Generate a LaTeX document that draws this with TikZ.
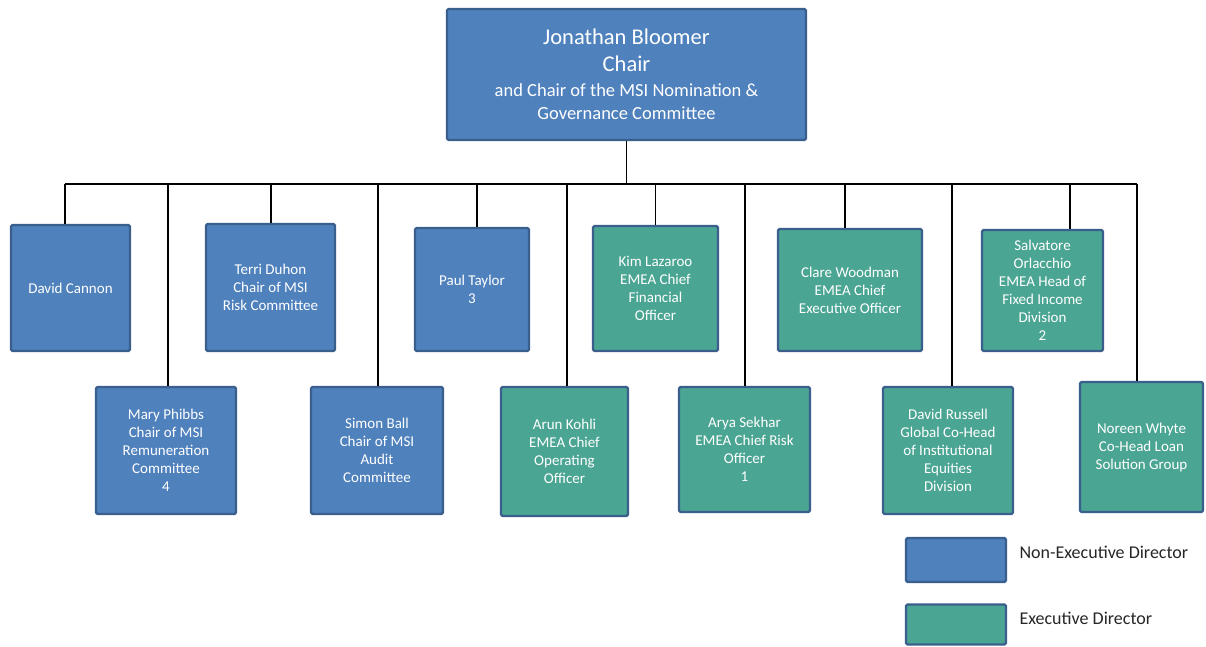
\documentclass[tikz,border=0pt]{standalone}
\usepackage{fontspec}
\setmainfont{Carlito}
\definecolor{nedblue}{HTML}{4F81BD}
\definecolor{edgreen}{HTML}{4BA593}
\definecolor{boxedge}{HTML}{3A5F8C}
\begin{document}
\begin{tikzpicture}[x=1pt,y=-1pt,
  box/.style={draw=boxedge, line width=2.3pt, rounded corners=1.5pt, text=white, align=center,
    inner sep=1pt, font=\fontsize{15}{18}\selectfont},
  ned/.style={box, fill=nedblue},
  exd/.style={box, fill=edgreen},
  link/.style={draw=black, line width=1.4pt},
  legtext/.style={anchor=west, text=black!85, font=\fontsize{18}{20}\selectfont}]
\useasboundingbox (0,0) rectangle (1206,646);
\node[ned, minimum width=359pt, minimum height=131pt, font=\fontsize{18.5}{23.5}\selectfont] (top) at (626.5,74.5)
  {{\fontsize{22.5}{27}\selectfont Jonathan Bloomer}\\[3.5pt]{\fontsize{22.5}{27}\selectfont Chair}\\[1.5pt]and Chair of the MSI Nomination \&\\Governance Committee};
% top row
\node[ned, minimum width=119pt, minimum height=126pt] (dc) at (70.5,288) {David Cannon};
\node[ned, minimum width=129pt, minimum height=127pt] (td) at (270.5,287.5) {Terri Duhon\\Chair of MSI\\Risk Committee};
\node[ned, minimum width=114pt, minimum height=123pt] (pt) at (472,289.5) {Paul Taylor\\3};
\node[exd, minimum width=125pt, minimum height=125pt] (kl) at (655.5,288.5) {Kim Lazaroo\\EMEA Chief\\Financial\\Officer};
\node[exd, minimum width=144pt, minimum height=122pt] (cw) at (850,290) {Clare Woodman\\EMEA Chief\\Executive Officer};
\node[exd, minimum width=121pt, minimum height=121pt] (so) at (1042.5,290.5) {Salvatore\\Orlacchio\\EMEA Head of\\Fixed Income\\Division\\2};
% bottom row
\node[ned, minimum width=140pt, minimum height=127pt] (mp) at (166,450.5) {Mary Phibbs\\Chair of MSI\\Remuneration\\Committee\\4};
\node[ned, minimum width=132pt, minimum height=127pt] (sb) at (377,450.5) {Simon Ball\\Chair of MSI\\Audit\\Committee};
\node[exd, minimum width=127pt, minimum height=129pt] (ak) at (564.5,451.5) {Arun Kohli\\EMEA Chief\\Operating\\Officer};
\node[exd, minimum width=131pt, minimum height=125pt] (as) at (744.5,449.5) {Arya Sekhar\\EMEA Chief Risk\\Officer\\1};
\node[exd, minimum width=130pt, minimum height=127pt] (dr) at (948,450.5) {David Russell\\Global Co-Head\\of Institutional\\Equities\\Division};
\node[exd, minimum width=123pt, minimum height=130pt] (nw) at (1141.5,447) {Noreen Whyte\\Co-Head Loan\\Solution Group};
% connectors
\coordinate (bus) at (0,184);
\coordinate (busl) at (65,184);
\coordinate (busr) at (1137,184);
\draw[link] (busl) -- (busr);
\draw[link] (top.south) -- (top.south |- bus);
\draw[link] ([xshift=-5.5pt]dc.north) -- ([xshift=-5.5pt]dc.north |- bus);
\draw[link] ([xshift=0.5pt]td.north) -- ([xshift=0.5pt]td.north |- bus);
\draw[link] ([xshift=5pt]pt.north) -- ([xshift=5pt]pt.north |- bus);
\draw[link] (kl.north) -- (kl.north |- bus);
\draw[link] ([xshift=-5pt]cw.north) -- ([xshift=-5pt]cw.north |- bus);
\draw[link] ([xshift=27.5pt]so.north) -- ([xshift=27.5pt]so.north |- bus);
\draw[link] ([xshift=2pt]mp.north) -- ([xshift=2pt]mp.north |- bus);
\draw[link] ([xshift=1pt]sb.north) -- ([xshift=1pt]sb.north |- bus);
\draw[link] ([xshift=2.5pt]ak.north) -- ([xshift=2.5pt]ak.north |- bus);
\draw[link] ([xshift=0.5pt]as.north) -- ([xshift=0.5pt]as.north |- bus);
\draw[link] ([xshift=4pt]dr.north) -- ([xshift=4pt]dr.north |- bus);
\draw[link] ([xshift=-4.5pt]nw.north) -- (busr);
% legend
\node[ned, minimum width=100pt, minimum height=44pt] (legned) at (956,560) {};
\node[exd, minimum width=100pt, minimum height=40pt] (legexd) at (956,624.5) {};
\node[legtext] (legnedt) at (1016,552) {Non-Executive Director};
\node[legtext] (legexdt) at (1016,618) {Executive Director};
\end{tikzpicture}
\end{document}
